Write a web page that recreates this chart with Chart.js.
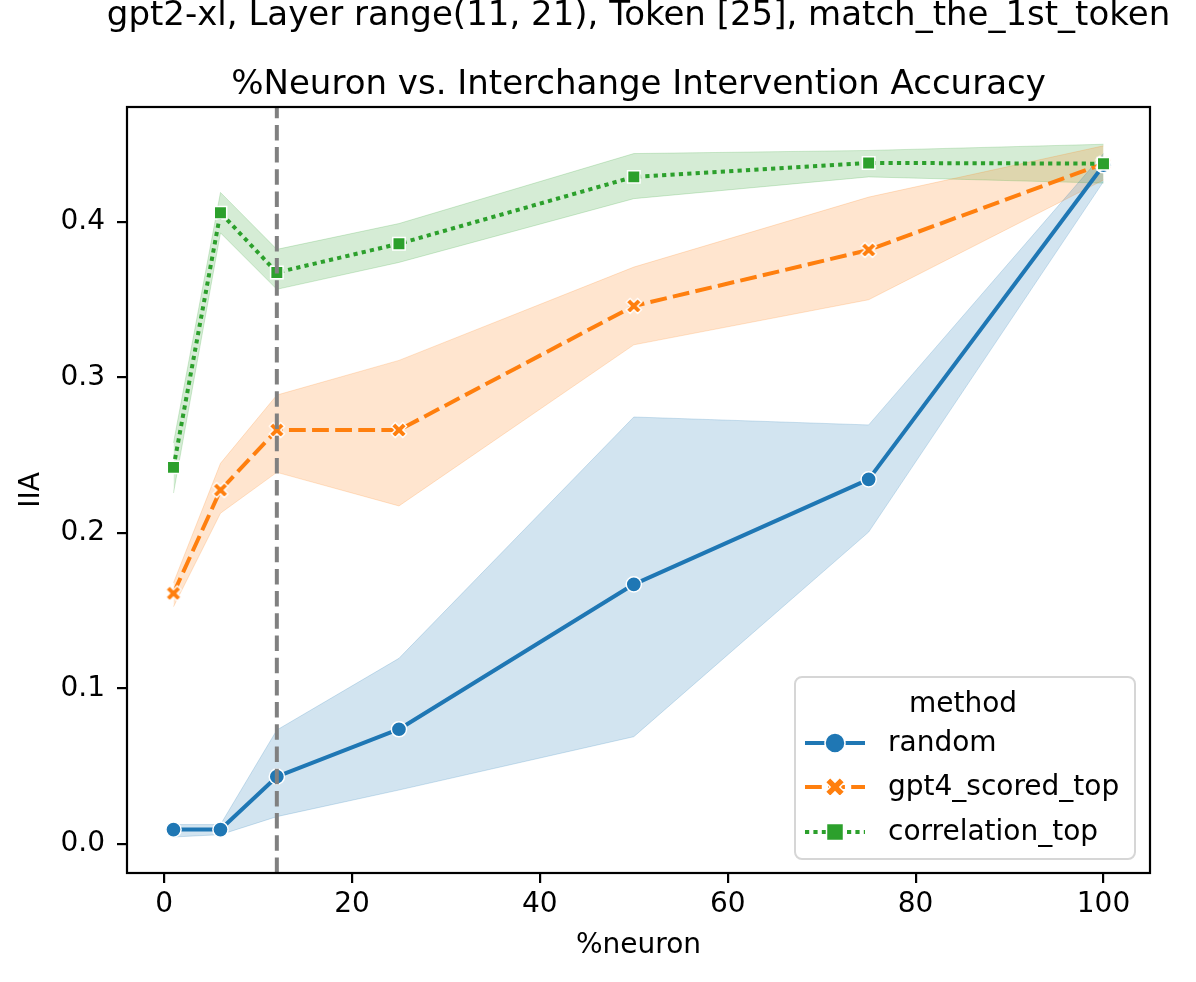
<!DOCTYPE html>
<html>
<head>
<meta charset="utf-8">
<script src="https://cdn.jsdelivr.net/npm/chart.js@4.4.1/dist/chart.umd.min.js"></script>
<style>
  html, body { margin: 0; padding: 0; background: #fff; }
  #wrap { position: relative; width: 1196px; height: 982px; }
</style>
</head>
<body>
<div id="wrap"><canvas id="c"></canvas></div>
<script>
// ---- data ----
const suptitleText = "gpt2-xl, Layer range(11, 21), Token [25], match_the_1st_token";
const titleText = "%Neuron vs. Interchange Intervention Accuracy";
const xLabel = "%neuron";
const yLabel = "IIA";
const legendTitle = "method";
const methods = ["random", "gpt4_scored_top", "correlation_top"];
const percentNeuron = [1, 6, 12, 25, 50, 75, 100];
const randomMean = [0.0093, 0.0093, 0.0433, 0.0738, 0.167, 0.2345, 0.4365];
const randomLow  = [0.0045, 0.0060, 0.0176, 0.0347, 0.069, 0.2006, 0.426];
const randomHigh = [0.0125, 0.0125, 0.0733, 0.1194, 0.2746, 0.2695, 0.444];
const gpt4Mean = [0.1612, 0.2276, 0.2662, 0.2662, 0.346, 0.382, 0.4375];
const gpt4Low  = [0.1526, 0.2127, 0.2390, 0.2174, 0.321, 0.350, 0.427];
const gpt4High = [0.1680, 0.2448, 0.2887, 0.3110, 0.371, 0.416, 0.449];
const corrMean = [0.2422, 0.4060, 0.3675, 0.3860, 0.429, 0.438, 0.4375];
const corrLow  = [0.2257, 0.3930, 0.3567, 0.3740, 0.415, 0.429, 0.425];
const corrHigh = [0.2580, 0.4190, 0.3824, 0.3990, 0.444, 0.446, 0.450];
const markerLineX = 12;
const xTicksStep = 20;
const yTicksStep = 0.1;

// ---- styles ----
const FONT = "'DejaVu Sans', 'Liberation Sans', sans-serif";
const BLUE = '#1f77b4', ORANGE = '#ff7f0e', GREEN = '#2ca02c';
const BLUE_A = 'rgba(31,119,180,0.2)', ORANGE_A = 'rgba(255,127,14,0.2)', GREEN_A = 'rgba(44,160,44,0.2)';
const LW = 4;
const DASH_GPT4 = [16.8, 6.3];
const DASH_CORR = [4.2, 4.2];

function makeXMarker(color, L, w) {
  const c = document.createElement('canvas');
  const S = Math.ceil(2 * (L + w) + 6); c.width = S; c.height = S;
  const g = c.getContext('2d');
  g.translate(S / 2, S / 2); g.rotate(Math.PI / 4);
  g.beginPath();
  g.moveTo(-w, -L); g.lineTo(w, -L); g.lineTo(w, -w); g.lineTo(L, -w); g.lineTo(L, w);
  g.lineTo(w, w); g.lineTo(w, L); g.lineTo(-w, L); g.lineTo(-w, w); g.lineTo(-L, w);
  g.lineTo(-L, -w); g.lineTo(-w, -w); g.closePath();
  g.fillStyle = color; g.fill();
  g.lineWidth = 1.4; g.strokeStyle = '#fff'; g.stroke();
  return c;
}
const xMarker = makeXMarker(ORANGE, 8.0, 2.7);
const xMarkerLegend = makeXMarker(ORANGE, 10.2, 3.4);

function pts(ys) { return percentNeuron.map((x, i) => ({ x: x, y: ys[i] })); }

function band(lowArr, highArr, color, fillIndex) {
  return [
    { data: pts(lowArr), borderColor: color, borderWidth: 1, pointRadius: 0, fill: false, order: 20 },
    { data: pts(highArr), borderColor: color, borderWidth: 1, pointRadius: 0, backgroundColor: color, fill: fillIndex, order: 20 }
  ];
}

const datasets = [
  ...band(randomLow, randomHigh, BLUE_A, 0),
  ...band(gpt4Low, gpt4High, ORANGE_A, 2),
  ...band(corrLow, corrHigh, GREEN_A, 4),
  { label: methods[0], data: pts(randomMean), borderColor: BLUE, borderWidth: LW, fill: false,
    pointStyle: 'circle', pointRadius: 7.6, pointBorderWidth: 1.5, pointBackgroundColor: BLUE, pointBorderColor: '#fff', order: 3 },
  { label: methods[1], data: pts(gpt4Mean), borderColor: ORANGE, borderWidth: LW, borderDash: DASH_GPT4, fill: false,
    pointStyle: xMarker, pointRadius: 7, order: 2 },
  { label: methods[2], data: pts(corrMean), borderColor: GREEN, borderWidth: LW, borderDash: DASH_CORR, fill: false,
    pointStyle: 'rect', pointRadius: 8.8, pointBorderWidth: 1.5, pointBackgroundColor: GREEN, pointBorderColor: '#fff', order: 1 }
];

const decorPlugin = {
  id: 'decor',
  afterDatasetsDraw(chart) {
    const { ctx, chartArea: a, scales } = chart;
    // vertical dashed reference line
    const px = scales.x.getPixelForValue(markerLineX);
    ctx.save();
    ctx.strokeStyle = '#808080';
    ctx.lineWidth = LW;
    ctx.setLineDash([15.5, 6.7]);
    ctx.beginPath(); ctx.moveTo(px, a.bottom); ctx.lineTo(px, a.top); ctx.stroke();
    ctx.restore();
    // spines
    ctx.save();
    ctx.strokeStyle = '#000'; ctx.lineWidth = 2.2;
    ctx.strokeRect(a.left, a.top, a.right - a.left, a.bottom - a.top);
    ctx.restore();
  },
  afterDraw(chart) {
    const { ctx, chartArea: a } = chart;
    ctx.save();
    ctx.fillStyle = '#000';
    ctx.textAlign = 'center'; ctx.textBaseline = 'alphabetic';
    ctx.font = '34px ' + FONT;
    const cx = (a.left + a.right) / 2;
    ctx.fillText(suptitleText, cx, 25);
    ctx.fillText(titleText, cx, 94);
    // legend
    const bx = 795, by = 677, bw = 340, bh = 182, r = 7;
    ctx.beginPath();
    ctx.moveTo(bx + r, by); ctx.lineTo(bx + bw - r, by); ctx.arcTo(bx + bw, by, bx + bw, by + r, r);
    ctx.lineTo(bx + bw, by + bh - r); ctx.arcTo(bx + bw, by + bh, bx + bw - r, by + bh, r);
    ctx.lineTo(bx + r, by + bh); ctx.arcTo(bx, by + bh, bx, by + bh - r, r);
    ctx.lineTo(bx, by + r); ctx.arcTo(bx, by, bx + r, by, r); ctx.closePath();
    ctx.fillStyle = 'rgba(255,255,255,0.8)'; ctx.fill();
    ctx.strokeStyle = '#d6d6d6'; ctx.lineWidth = 2; ctx.stroke();
    ctx.font = '28px ' + FONT; ctx.fillStyle = '#000';
    ctx.textAlign = 'center'; ctx.textBaseline = 'alphabetic';
    ctx.fillText(legendTitle, 963, 712);
    const rows = [743, 787, 832];
    const colors = [BLUE, ORANGE, GREEN];
    const dashes = [[], DASH_GPT4, DASH_CORR];
    for (let i = 0; i < 3; i++) {
      const y = rows[i];
      ctx.save();
      ctx.strokeStyle = colors[i]; ctx.lineWidth = LW; ctx.setLineDash(dashes[i]);
      ctx.beginPath(); ctx.moveTo(805, y); ctx.lineTo(865, y); ctx.stroke();
      ctx.restore();
      ctx.save();
      if (i === 0) {
        ctx.beginPath(); ctx.arc(835, y, 10, 0, Math.PI * 2);
        ctx.fillStyle = BLUE; ctx.fill(); ctx.lineWidth = 1.5; ctx.strokeStyle = '#fff'; ctx.stroke();
      } else if (i === 1) {
        ctx.drawImage(xMarkerLegend, 835 - xMarkerLegend.width / 2, y - xMarkerLegend.height / 2);
      } else {
        const s = 8.5;
        ctx.fillStyle = GREEN; ctx.fillRect(835 - s, y - s, 2 * s, 2 * s);
        ctx.lineWidth = 1.5; ctx.strokeStyle = '#fff'; ctx.strokeRect(835 - s, y - s, 2 * s, 2 * s);
      }
      ctx.restore();
      ctx.fillStyle = '#000'; ctx.textAlign = 'left'; ctx.textBaseline = 'middle';
      ctx.fillText(methods[i], 888, y + 1);
    }
    ctx.restore();
  }
};

new Chart(document.getElementById('c'), {
  type: 'line',
  data: { datasets },
  plugins: [decorPlugin],
  options: {
    responsive: true,
    maintainAspectRatio: false,
    animation: false,
    events: [],
    layout: { padding: { top: 107, right: 46, bottom: 0, left: 0 } },
    plugins: {
      legend: { display: false },
      tooltip: { enabled: false },
      title: { display: false },
      filler: { drawTime: 'beforeDatasetsDraw', propagate: false }
    },
    elements: { line: { tension: 0, borderCapStyle: 'butt', borderJoinStyle: 'round' } },
    scales: {
      x: {
        type: 'linear', min: -3.95, max: 104.95,
        afterFit(s) { s.height = 109; },
        ticks: { stepSize: xTicksStep, includeBounds: false, color: '#000', padding: 5,
                 font: { family: FONT, size: 28 }, maxRotation: 0 },
        grid: { display: true, drawOnChartArea: false, drawTicks: true, tickLength: 10, color: '#000', lineWidth: 2.2 },
        border: { display: false },
        title: { display: true, text: xLabel, color: '#000', font: { family: FONT, size: 28 }, padding: { top: 0, bottom: 19 } }
      },
      y: {
        type: 'linear', min: -0.01865, max: 0.47395,
        afterFit(s) { s.width = 127; },
        ticks: { stepSize: yTicksStep, includeBounds: false, color: '#000', padding: 12,
                 font: { family: FONT, size: 28 }, callback: v => Number(v).toFixed(1) },
        grid: { display: true, drawOnChartArea: false, drawTicks: true, tickLength: 10, color: '#000', lineWidth: 2.2 },
        border: { display: false },
        title: { display: true, text: yLabel, color: '#000', font: { family: FONT, size: 28 }, padding: { top: 15, bottom: 0 } }
      }
    }
  }
});
</script>
</body>
</html>
